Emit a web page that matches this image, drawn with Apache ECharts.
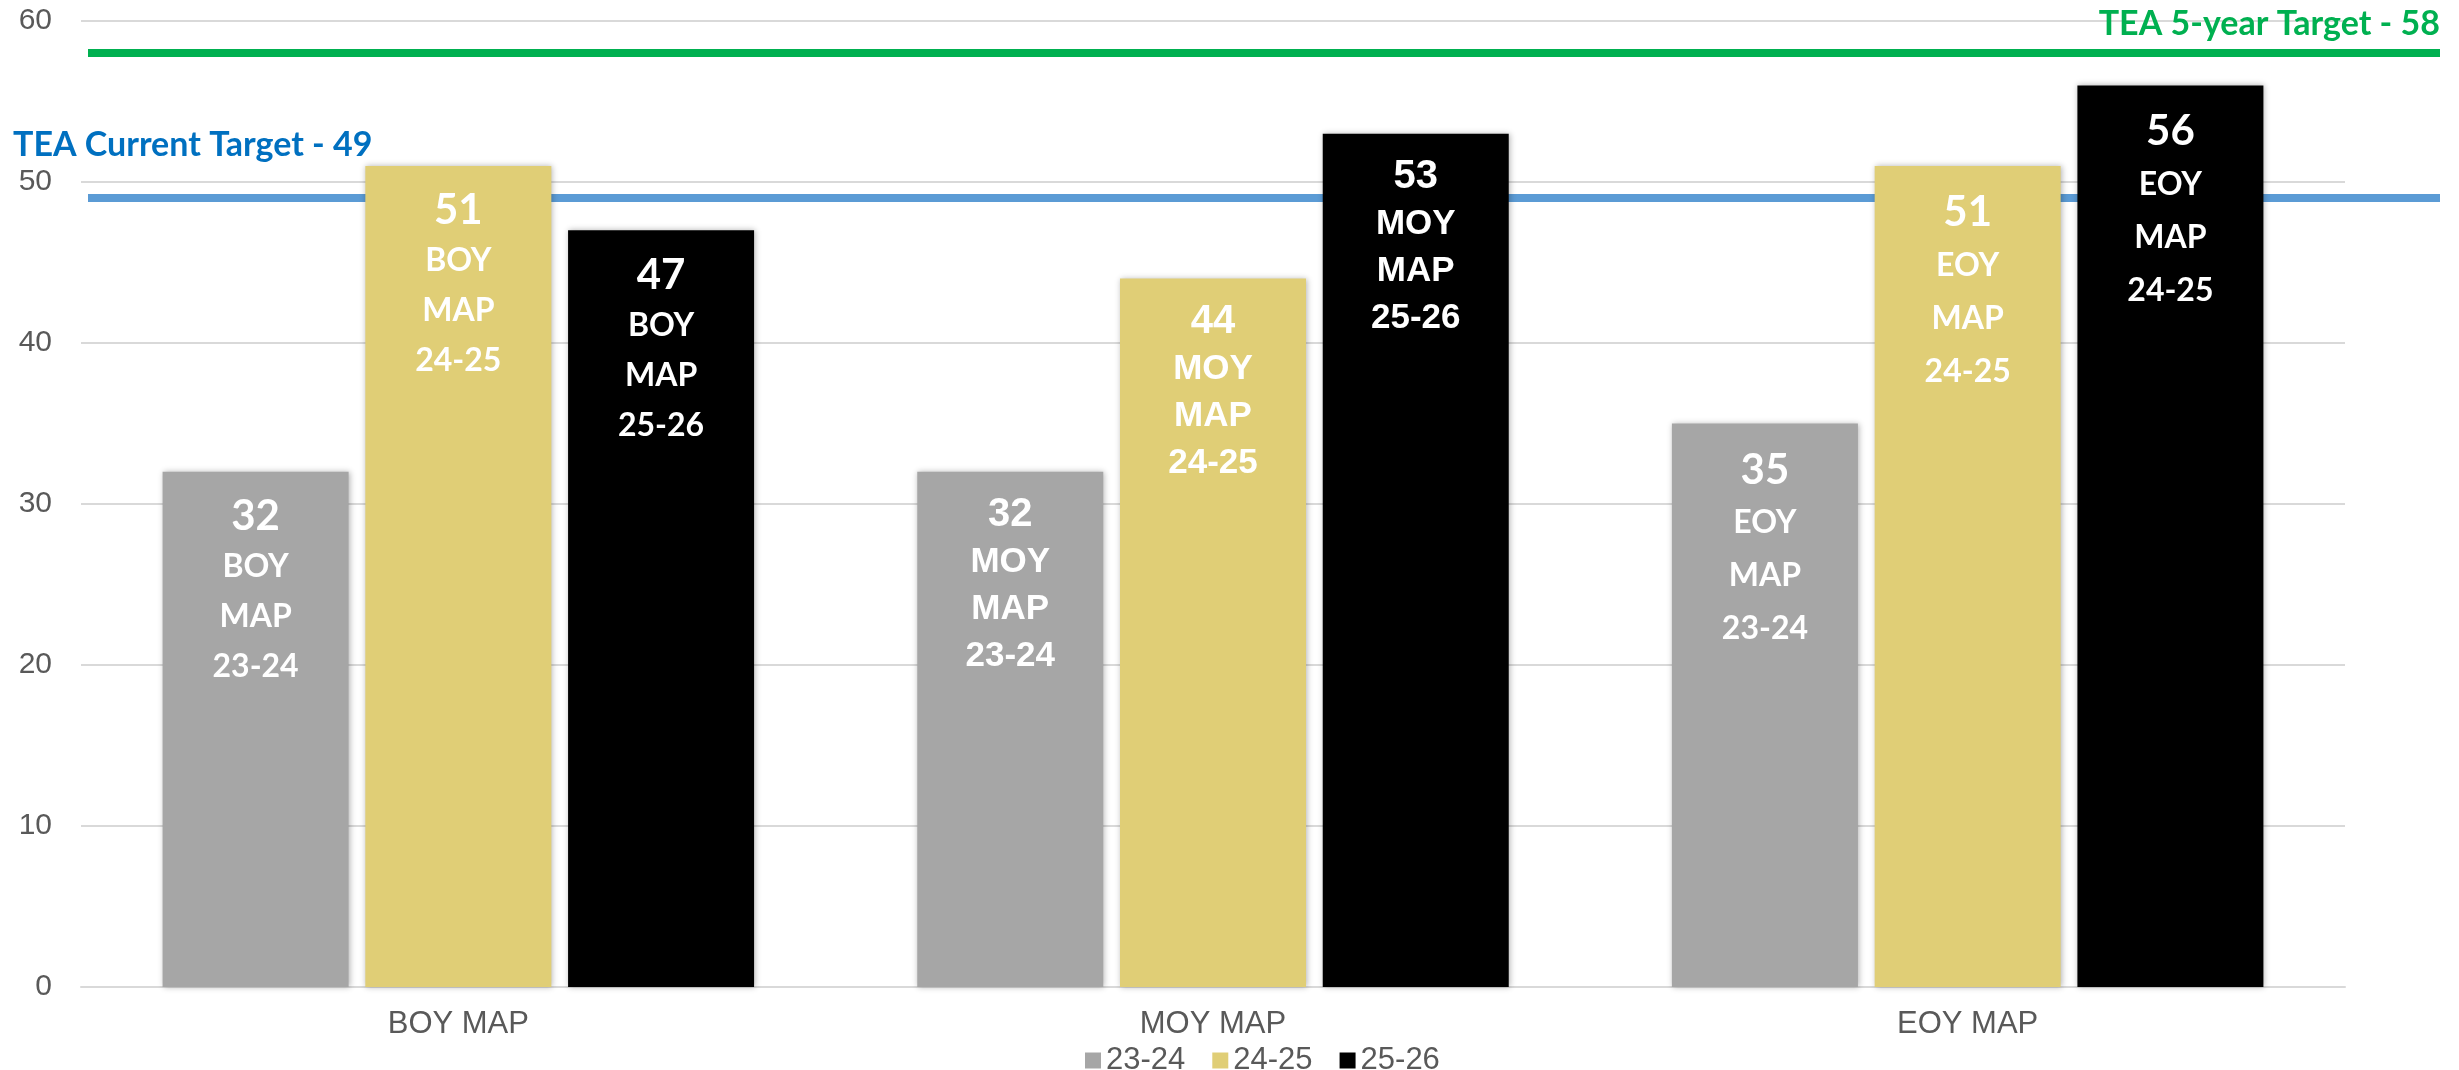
<!DOCTYPE html>
<html>
<head>
<meta charset="utf-8">
<title>MAP results</title>
<script src="https://cdn.jsdelivr.net/npm/echarts@6/dist/echarts.min.js"></script>
<style>
  html, body { margin: 0; padding: 0; background: #fff; }
  #chart { width: 2459px; height: 1070px; }
</style>
</head>
<body>
<div id="chart"></div>
<script>
// categories and series
const categories = ['BOY MAP', 'MOY MAP', 'EOY MAP'];
const seriesNames = ['23-24', '24-25', '25-26'];
const values2324 = [32, 32, 35];
const values2425 = [51, 44, 51];
const values2526 = [47, 53, 56];
// year text written inside each bar (last EOY one says 24-25 in the original)
const tags2324 = ['23-24', '23-24', '23-24'];
const tags2425 = ['24-25', '24-25', '24-25'];
const tags2526 = ['25-26', '25-26', '24-25'];
// targets
const targetValues = [58, 49];
const targetLabels = ['TEA 5-year Target - 58', 'TEA Current Target - 49'];
const yTicks = [0, 10, 20, 30, 40, 50, 60];

const colors = ['#a6a6a6', '#e0ce76', '#000000'];
const targetColors = ['#00b050', '#5b9bd5'];
const targetTextColors = ['#00b050', '#0070c0'];

const calibriLike = 'Lato, "Open Sans", sans-serif';
const arialLike = '"Liberation Sans", Arial, sans-serif';

// label look per category group (BOY, MOY, EOY)
const groupFonts = [calibriLike, arialLike, calibriLike];
const groupValueSize = [42, 40, 42];
const groupTextSize = [32, 35, 32];
const groupLineHeight = [50, 47, 53];

function makeRich(i) {
  return {
    v: { fontFamily: groupFonts[i], fontSize: groupValueSize[i], fontWeight: 'bold', color: '#fff', lineHeight: groupLineHeight[i] },
    t: { fontFamily: groupFonts[i], fontSize: groupTextSize[i], fontWeight: 'bold', color: '#fff', lineHeight: groupLineHeight[i] }
  };
}

function barSeries(idx, values, tags) {
  return {
    name: seriesNames[idx],
    type: 'bar',
    xAxisIndex: 0,
    yAxisIndex: 0,
    barWidth: 186,
    barGap: '9%',
    z: 4,
    itemStyle: {
      color: colors[idx],
      shadowBlur: 6,
      shadowColor: 'rgba(0,0,0,0.3)',
      shadowOffsetX: 1
    },
    data: values.map((v, i) => ({
      value: v,
      label: {
        show: true,
        position: 'insideTop',
        distance: 20,
        formatter: '{v|' + v + '}\n{t|' + categories[i].split(' ')[0] + '}\n{t|MAP}\n{t|' + tags[i] + '}',
        rich: makeRich(i)
      }
    }))
  };
}

const chart = echarts.init(document.getElementById('chart'));
chart.setOption({
  animation: false,
  backgroundColor: '#fff',
  grid: [
    { left: 81, right: 114, top: 21, bottom: 83 },
    { left: 88, right: 19, top: 21, bottom: 83 }
  ],
  legend: {
    data: seriesNames,
    left: 1080,
    top: 1040,
    itemWidth: 16,
    itemHeight: 16,
    itemGap: 27,
    icon: 'rect',
    textStyle: { fontFamily: arialLike, fontSize: 31, color: '#595959' }
  },
  xAxis: [
    {
      type: 'category',
      gridIndex: 0,
      data: categories,
      axisLine: { show: true, lineStyle: { color: '#d9d9d9', width: 2 } },
      axisTick: { show: false },
      axisLabel: { fontFamily: arialLike, fontSize: 31, color: '#595959', margin: 22 }
    },
    { type: 'value', gridIndex: 1, min: 0, max: 1, show: false }
  ],
  yAxis: [
    {
      type: 'value',
      gridIndex: 0,
      min: yTicks[0],
      max: yTicks[yTicks.length - 1],
      interval: 10,
      axisLine: { show: false },
      axisTick: { show: false },
      axisLabel: { fontFamily: arialLike, fontSize: 30, color: '#595959', margin: 29 },
      splitLine: { lineStyle: { color: '#d9d9d9', width: 2 } }
    },
    {
      type: 'value',
      gridIndex: 1,
      min: yTicks[0],
      max: yTicks[yTicks.length - 1],
      show: false
    }
  ],
  series: [
    barSeries(0, values2324, tags2324),
    barSeries(1, values2425, tags2425),
    barSeries(2, values2526, tags2526),
    {
      name: 'targets',
      type: 'line',
      xAxisIndex: 1,
      yAxisIndex: 1,
      data: [],
      silent: true,
      z: 1,
      markLine: {
        silent: true,
        symbol: 'none',
        animation: false,
        z: 1,
        data: targetValues.map((t, i) => ({
          yAxis: t,
          lineStyle: { color: targetColors[i], width: 8, type: 'solid' },
          label: {
            show: true,
            formatter: targetLabels[i],
            position: i === 0 ? 'insideEndTop' : 'insideStartTop',
            distance: i === 0 ? [0, 12] : [-75, 36],
            fontFamily: calibriLike,
            fontSize: 34,
            fontWeight: 'bold',
            color: targetTextColors[i]
          }
        }))
      }
    }
  ]
});
</script>
</body>
</html>
